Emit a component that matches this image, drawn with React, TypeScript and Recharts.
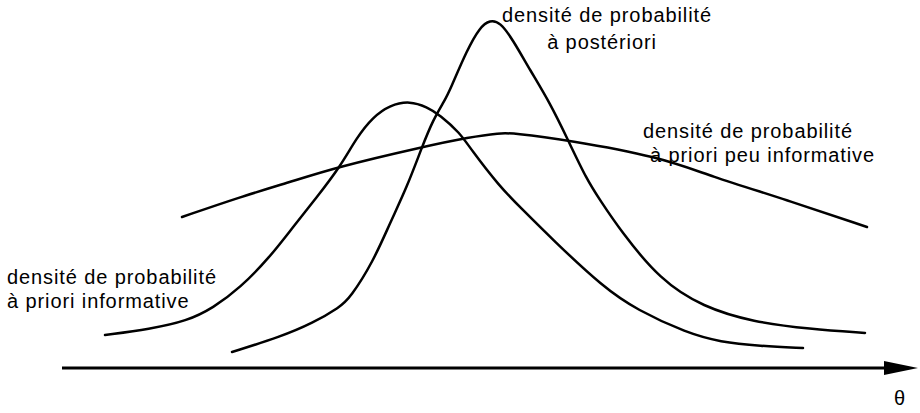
import React from 'react'
import { LineChart, Line, XAxis, YAxis, ReferenceLine } from 'recharts'

// curve heights above the θ axis
const informative = [
  { x: 105, d: 33 }, { x: 150, d: 39 }, { x: 187, d: 47 }, { x: 213, d: 60 },
  { x: 240, d: 80 }, { x: 270, d: 111 }, { x: 293, d: 141 }, { x: 317, d: 171 },
  { x: 340, d: 201 }, { x: 357, d: 231 }, { x: 373, d: 251 }, { x: 390, d: 263 },
  { x: 410, d: 267 }, { x: 427, d: 261 }, { x: 440, d: 253 }, { x: 460, d: 235 },
  { x: 470, d: 220 }, { x: 500, d: 181 }, { x: 520, d: 161 }, { x: 553, d: 128 },
  { x: 603, d: 81 }, { x: 637, d: 58 }, { x: 687, d: 35 }, { x: 720, d: 26 },
  { x: 760, d: 22 }, { x: 803, d: 20 },
]

const posterior = [
  { x: 232, d: 16 }, { x: 280, d: 31 }, { x: 313, d: 45 }, { x: 340, d: 61 },
  { x: 350, d: 70 }, { x: 373, d: 106 }, { x: 390, d: 145 }, { x: 407, d: 181 },
  { x: 422, d: 221 }, { x: 433, d: 248 }, { x: 445, d: 268 }, { x: 450, d: 278 },
  { x: 467, d: 318 }, { x: 480, d: 341 }, { x: 490, d: 348 }, { x: 500, d: 346 },
  { x: 513, d: 328 }, { x: 530, d: 298 }, { x: 550, d: 265 }, { x: 568, d: 228 },
  { x: 587, d: 188 }, { x: 600, d: 168 }, { x: 620, d: 138 }, { x: 660, d: 88 },
  { x: 703, d: 61 }, { x: 753, d: 46 }, { x: 810, d: 39 }, { x: 865, d: 35 },
]

const vague = [
  { x: 182, d: 151 }, { x: 240, d: 171 }, { x: 290, d: 186 }, { x: 337, d: 201 },
  { x: 422, d: 221 }, { x: 470, d: 231 }, { x: 500, d: 235 }, { x: 513, d: 235 },
  { x: 568, d: 228 }, { x: 660, d: 211 }, { x: 710, d: 192 }, { x: 787, d: 168 },
  { x: 867, d: 141 },
]

const axisStart = 62
const axisEnd = 918

const FONT = '"Liberation Sans", Arial, Helvetica, sans-serif'

const labels = [
  { text: 'densité de probabilité', left: 7, top: 277 },
  { text: 'à priori informative', left: 7, top: 301 },
  { text: 'densité de probabilité', left: 607, top: 15, center: true },
  { text: 'à postériori', left: 602, top: 42, center: true },
  { text: 'densité de probabilité', left: 643, top: 131 },
  { text: 'à priori peu informative', left: 650, top: 155 },
  { text: 'θ', left: 900, top: 398, center: true },
]

const Arrow = (props: any) => {
  const { x1, y1, x2, y2 } = props
  return (
    <g>
      <line x1={x1} y1={y1} x2={x2 - 20} y2={y2} stroke="#000" strokeWidth={3} />
      <polygon points={`${x2 - 34},${y2 - 7} ${x2},${y2} ${x2 - 34},${y2 + 7}`} fill="#000" />
    </g>
  )
}

export default function App() {
  return (
    <div style={{ position: 'absolute', left: 0, top: 0, width: 920, height: 413, background: '#fff' }}>
      <LineChart width={920} height={413} margin={{ top: 0, right: 0, bottom: 0, left: 0 }}>
        <XAxis type="number" dataKey="x" domain={[0, 920]} hide allowDataOverflow />
        <YAxis type="number" domain={[-45, 368]} hide allowDataOverflow />
        <ReferenceLine
          segment={[{ x: axisStart, y: 0 }, { x: axisEnd, y: 0 }]}
          shape={Arrow}
          ifOverflow="visible"
        />
        {[informative, posterior, vague].map((series, i) => (
          <Line
            key={i}
            data={series}
            dataKey="d"
            type="basis"
            stroke="#000"
            strokeWidth={2.5}
            strokeLinecap="round"
            dot={false}
            activeDot={false}
            legendType="none"
            isAnimationActive={false}
          />
        ))}
      </LineChart>
      {labels.map((l, i) => (
        <div
          key={i}
          style={{
            position: 'absolute',
            left: l.left,
            top: l.top - 10,
            lineHeight: '20px',
            fontSize: 20,
            letterSpacing: 0.9,
            fontFamily: FONT,
            whiteSpace: 'nowrap',
            color: '#000',
            transform: l.center ? 'translateX(-50%)' : undefined,
          }}
        >
          {l.text}
        </div>
      ))}
    </div>
  )
}
